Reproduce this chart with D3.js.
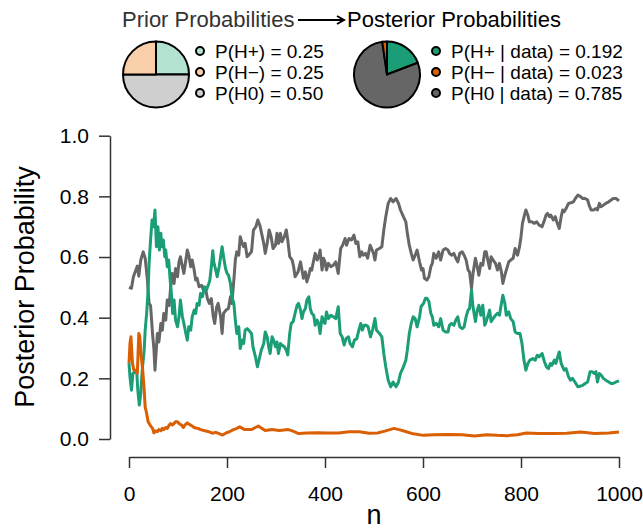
<!DOCTYPE html>
<html>
<head>
<meta charset="utf-8">
<script src="https://cdn.jsdelivr.net/npm/d3@7"></script>
<style>
body { margin: 0; background: #fff; }
text { font-family: "Liberation Sans", Arial, sans-serif; }
.axis path, .axis line { stroke: #333; stroke-width: 1.5; }
.axis text { font-size: 21px; fill: #000; }
</style>
</head>
<body>
<div id="chart"></div>
<script>
var w = 643;
var h = 530;

// [n, posterior probability]
var hPlus = [[0,.25],[2,.205],[5,.161],[8,.216],[12,.222],[16,.216],[18,.161],[21,.112],[24,.15],[27,.227],[31,.293],[33,.359],[36,.414],[39,.491],[41,.579],[44,.656],[47,.722],[50,.70],[53,.755],[56,.634],[59,.70],[62,.623],[65,.678],[67,.634],[70,.656],[73,.601],[75,.623],[78,.568],[81,.59],[84,.524],[86,.491],[89,.414],[92,.458],[95,.392],[99,.37],[102,.403],[105,.458],[109,.403],[112,.381],[116,.348],[119,.326],[122,.37],[126,.359],[129,.403],[133,.425],[136,.414],[139,.447],[143,.441],[146,.48],[150,.469],[154,.502],[158,.491],[163,.513],[165,.524],[168,.568],[171,.621],[173,.584],[177,.557],[180,.535],[184,.568],[187,.601],[190,.634],[193,.601],[197,.562],[200,.546],[203,.54],[207,.513],[210,.469],[214,.447],[217,.392],[220,.348],[224,.37],[227,.298],[231,.326],[234,.315],[237,.359],[241,.364],[244,.359],[250,.348],[253,.304],[258,.271],[262,.238],[266,.265],[270,.293],[275,.315],[278,.353],[282,.337],[285,.304],[288,.282],[292,.337],[295,.326],[299,.304],[302,.32],[305,.282],[309,.315],[312,.31],[317,.304],[321,.293],[324,.277],[328,.348],[331,.381],[335,.387],[338,.408],[343,.441],[346,.447],[350,.425],[353,.397],[356,.419],[360,.43],[363,.458],[367,.469],[370,.43],[373,.414],[377,.408],[380,.375],[384,.392],[387,.381],[390,.348],[394,.403],[397,.387],[400,.381],[403,.419],[407,.397],[412,.408],[417,.403],[422,.397],[427,.436],[431,.348],[435,.337],[439,.31],[443,.331],[448,.337],[451,.315],[456,.304],[460,.326],[465,.331],[469,.359],[473,.381],[476,.359],[480,.375],[484,.375],[488,.37],[493,.337],[497,.359],[502,.397],[505,.359],[511,.348],[516,.337],[520,.282],[524,.238],[529,.194],[534,.172],[539,.188],[545,.172],[550,.188],[554,.216],[560,.238],[565,.26],[568,.293],[572,.348],[576,.381],[580,.403],[584,.397],[588,.37],[593,.403],[596,.436],[601,.447],[605,.464],[608,.464],[612,.453],[616,.414],[619,.403],[622,.375],[627,.381],[632,.37],[636,.397],[641,.359],[646,.353],[651,.353],[654,.375],[658,.381],[663,.375],[667,.392],[671,.403],[675,.37],[680,.364],[684,.37],[688,.403],[692,.425],[695,.43],[699,.491],[702,.436],[707,.387],[710,.419],[714,.441],[718,.408],[722,.441],[726,.375],[729,.387],[733,.408],[736,.425],[739,.387],[743,.397],[748,.408],[752,.414],[756,.408],[760,.447],[763,.474],[767,.447],[770,.408],[775,.419],[779,.397],[784,.387],[788,.353],[793,.348],[798,.348],[802,.315],[806,.26],[810,.227],[814,.249],[818,.26],[824,.265],[829,.26],[833,.276],[837,.271],[843,.282],[848,.254],[852,.238],[856,.232],[860,.249],[863,.243],[868,.26],[871,.249],[875,.271],[878,.287],[882,.249],[885,.238],[888,.227],[892,.232],[897,.205],[901,.194],[905,.2],[910,.188],[916,.172],[920,.174],[926,.177],[931,.183],[936,.188],[941,.222],[945,.222],[950,.216],[953,.222],[956,.188],[960,.216],[964,.21],[968,.2],[973,.194],[979,.188],[984,.183],[988,.183],[994,.188],[1000,.192]];

var hMinus = [[0,.25],[2,.315],[4,.337],[7,.25],[10,.227],[14,.227],[17,.216],[20,.348],[22,.337],[25,.271],[28,.227],[31,.161],[33,.106],[36,.084],[39,.057],[43,.046],[48,.035],[51,.02],[54,.027],[58,.024],[61,.031],[65,.027],[68,.035],[71,.031],[75,.038],[78,.035],[82,.046],[85,.051],[88,.046],[92,.051],[95,.057],[99,.057],[102,.051],[107,.046],[111,.038],[114,.046],[119,.053],[122,.049],[126,.046],[131,.04],[136,.036],[141,.035],[146,.031],[153,.028],[161,.025],[170,.019],[177,.022],[184,.018],[191,.013],[198,.02],[205,.024],[212,.03],[219,.034],[226,.04],[236,.031],[250,.031],[258,.038],[264,.043],[271,.035],[278,.028],[292,.031],[307,.028],[325,.031],[335,.026],[346,.018],[364,.02],[385,.021],[406,.02],[428,.02],[449,.024],[470,.024],[490,.019],[507,.02],[522,.026],[541,.035],[551,.031],[566,.024],[580,.017],[601,.012],[622,.014],[651,.015],[680,.014],[705,.01],[730,.014],[751,.012],[772,.011],[793,.014],[811,.02],[836,.018],[865,.018],[893,.019],[922,.023],[950,.018],[979,.02],[1000,.023]];

var hNull = [[0,.50],[5,.497],[9,.535],[14,.557],[17,.57],[20,.537],[24,.59],[29,.617],[33,.596],[37,.535],[41,.447],[44,.44],[48,.348],[51,.293],[53,.227],[56,.304],[58,.348],[61,.32],[65,.381],[68,.359],[71,.414],[75,.392],[78,.458],[82,.44],[85,.502],[88,.546],[92,.513],[95,.562],[99,.535],[102,.584],[105,.601],[109,.568],[112,.546],[116,.59],[119,.623],[122,.606],[126,.568],[129,.59],[133,.557],[136,.524],[139,.53],[143,.502],[148,.507],[152,.491],[156,.497],[160,.463],[164,.447],[168,.463],[172,.403],[175,.381],[179,.436],[182,.447],[187,.403],[190,.348],[193,.414],[198,.425],[203,.43],[207,.469],[210,.447],[214,.524],[217,.59],[220,.617],[224,.606],[227,.667],[231,.645],[234,.634],[237,.645],[241,.601],[244,.606],[250,.617],[254,.689],[259,.70],[263,.722],[267,.705],[270,.683],[275,.645],[278,.612],[282,.645],[286,.689],[290,.667],[294,.628],[299,.639],[302,.678],[305,.645],[309,.678],[312,.65],[317,.667],[321,.689],[324,.656],[328,.601],[333,.59],[336,.568],[339,.535],[345,.551],[350,.584],[353,.557],[356,.53],[360,.551],[363,.518],[367,.54],[370,.562],[373,.557],[377,.59],[380,.612],[384,.59],[387,.601],[390,.623],[394,.557],[397,.596],[400,.584],[403,.557],[407,.579],[412,.568],[417,.573],[422,.584],[427,.546],[432,.628],[436,.639],[441,.661],[444,.639],[449,.661],[454,.656],[459,.672],[463,.645],[467,.65],[471,.601],[475,.617],[478,.606],[483,.612],[487,.596],[492,.639],[495,.628],[499,.612],[502,.59],[505,.623],[511,.628],[516,.634],[520,.689],[524,.733],[529,.777],[534,.793],[539,.782],[545,.793],[550,.777],[554,.755],[560,.733],[565,.716],[568,.678],[572,.639],[576,.612],[580,.59],[584,.606],[588,.623],[593,.584],[597,.557],[600,.562],[603,.53],[608,.524],[612,.535],[616,.568],[619,.579],[622,.612],[627,.596],[632,.617],[636,.59],[641,.623],[646,.628],[651,.623],[654,.612],[658,.606],[663,.612],[667,.596],[671,.584],[675,.612],[680,.617],[684,.606],[688,.59],[692,.557],[695,.551],[699,.497],[702,.546],[707,.596],[710,.573],[714,.54],[718,.579],[722,.573],[726,.617],[729,.617],[733,.584],[736,.562],[739,.601],[743,.59],[748,.579],[752,.557],[756,.579],[760,.551],[763,.513],[767,.54],[770,.557],[775,.584],[779,.59],[784,.596],[788,.628],[793,.606],[797,.634],[800,.667],[803,.711],[807,.738],[810,.755],[814,.738],[817,.716],[822,.716],[827,.711],[832,.716],[837,.705],[843,.70],[848,.722],[851,.738],[854,.744],[858,.733],[861,.738],[866,.722],[870,.733],[873,.716],[878,.694],[882,.733],[885,.755],[888,.749],[892,.76],[897,.777],[902,.779],[907,.782],[911,.793],[916,.804],[920,.801],[926,.793],[931,.793],[936,.788],[939,.771],[943,.755],[948,.755],[953,.76],[956,.755],[960,.777],[963,.766],[968,.771],[973,.777],[979,.782],[984,.788],[988,.793],[994,.793],[1000,.785]];

var xTicks = [0, 200, 400, 600, 800, 1000];
var yTicks = [0, 0.2, 0.4, 0.6, 0.8, 1.0];

// order: H+, H-, H0
var priorProbs = [0.25, 0.25, 0.50];
var postProbs = [0.192, 0.023, 0.785];
var priorLabels = ["P(H+) = 0.25", "P(H\u2212) = 0.25", "P(H0) = 0.50"];
var postLabels = ["P(H+ | data) = 0.192", "P(H\u2212 | data) = 0.023", "P(H0 | data) = 0.785"];
var lineColors = ["#1b9e77", "#d95f02", "#666666"];
var priorColors = ["#b3e2d1", "#f9cfaa", "#cfcfcf"];

var xScale, yScale, svg;

function drawPie(cx, cy, probs, colors) {
	// clockwise from 12 o'clock: H+, H0, H-
	var order = [0, 2, 1];
	var pie = d3.pie().sort(null).value(function(i) { return probs[i]; });
	var arc = d3.arc().innerRadius(0).outerRadius(33);

	var g = svg.append("g").attr("transform", "translate(" + cx + "," + cy + ")");
	g.selectAll("path")
		.data(pie(order))
		.enter().append("path")
		.attr("d", arc)
		.attr("fill", function(d) { return colors[d.data]; })
		.attr("stroke", "#000")
		.attr("stroke-width", 2)
		.attr("stroke-linejoin", "round");
}

function drawLegend(x, y0, labels, colors) {
	var g = svg.append("g");
	labels.forEach(function(lab, i) {
		var y = y0 + i * 21;
		g.append("circle")
			.attr("cx", x).attr("cy", y).attr("r", 4)
			.attr("fill", colors[i]).attr("stroke", "#000").attr("stroke-width", 2);
		g.append("text")
			.attr("x", x + 15).attr("y", y + 7)
			.style("font-size", "19px")
			.text(lab);
	});
}

function lineChart() {
	svg = d3.select("#chart")
		.append("svg")
		.attr("width", w)
		.attr("height", h);

	xScale = d3.scaleLinear().domain([0, 1000]).range([129, 619]);
	yScale = d3.scaleLinear().domain([0, 1]).range([439, 135.7]);

	var xAxis = d3.axisBottom(xScale).tickValues(xTicks).tickSize(11).tickSizeOuter(0).tickPadding(18)
		.tickFormat(d3.format("d"));
	var yAxis = d3.axisLeft(yScale).tickValues(yTicks).tickSize(11).tickSizeOuter(0).tickPadding(10)
		.tickFormat(d3.format(".1f"));

	svg.append("g").attr("class", "axis")
		.attr("transform", "translate(0,457)")
		.call(xAxis);
	svg.append("g").attr("class", "axis")
		.attr("transform", "translate(110,0)")
		.call(yAxis);
	svg.selectAll(".axis .domain").attr("fill", "none");

	var line = d3.line()
		.x(function(d) { return xScale(d[0]); })
		.y(function(d) { return yScale(d[1]); });

	[hNull, hPlus, hMinus].forEach(function(series, k) {
		svg.append("path")
			.datum(series)
			.attr("d", line)
			.attr("fill", "none")
			.attr("stroke", [lineColors[2], lineColors[0], lineColors[1]][k])
			.attr("stroke-width", 3)
			.attr("stroke-linejoin", "round");
	});

	svg.append("text")
		.attr("transform", "translate(34,287) rotate(-90)")
		.attr("text-anchor", "middle")
		.style("font-size", "27px")
		.text("Posterior Probability");

	svg.append("text")
		.attr("x", 374).attr("y", 524)
		.attr("text-anchor", "middle")
		.style("font-size", "27px")
		.text("n");

	// header: prior -> posterior
	svg.append("text")
		.attr("x", 122).attr("y", 27)
		.style("font-size", "22px").attr("fill", "#333")
		.text("Prior Probabilities");
	svg.append("path")
		.attr("d", "M298,20H344M337,16L344,20L337,24")
		.attr("fill", "none").attr("stroke", "#000").attr("stroke-width", 2);
	svg.append("text")
		.attr("x", 347).attr("y", 27)
		.style("font-size", "22px")
		.text("Posterior Probabilities");

	drawPie(156, 74.5, priorProbs, priorColors);
	drawPie(387, 74.5, postProbs, lineColors);
	drawLegend(200, 51, priorLabels, priorColors);
	drawLegend(436, 51, postLabels, lineColors);
}

function init() {
	lineChart();
}

window.onload = init;
</script>
</body>
</html>
